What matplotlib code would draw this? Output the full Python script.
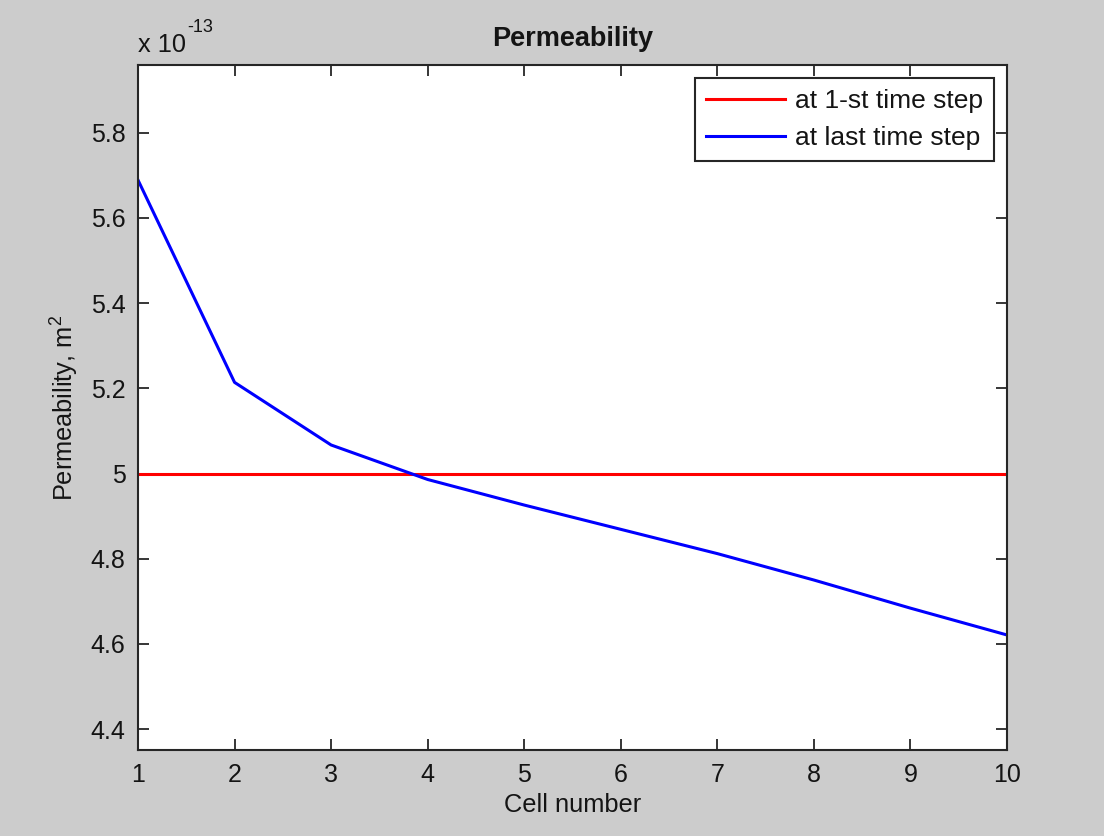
import matplotlib

matplotlib.use("Agg")
import matplotlib.pyplot as plt

# permeability values in units of 1e-13 m^2
cells = [1, 2, 3, 4, 5, 6, 7, 8, 9, 10]
perm_first = [5.0, 5.0, 5.0, 5.0, 5.0, 5.0, 5.0, 5.0, 5.0, 5.0]
perm_last = [5.689, 5.214, 5.067, 4.986, 4.926, 4.869, 4.812, 4.750, 4.684, 4.621]
y_ticks = [4.4, 4.6, 4.8, 5.0, 5.2, 5.4, 5.6, 5.8]
y_tick_labels = ["4.4", "4.6", "4.8", "5", "5.2", "5.4", "5.6", "5.8"]

plt.rcParams["font.family"] = ["Liberation Sans", "DejaVu Sans"]
plt.rcParams["mathtext.fontset"] = "custom"
plt.rcParams["mathtext.rm"] = "Liberation Sans"
plt.rcParams["mathtext.it"] = "Liberation Sans:italic"

grey = "#cccccc"
ink = "#141414"
fig = plt.figure(figsize=(11.04, 8.36), dpi=100, facecolor=grey)
ax = fig.add_axes([138 / 1104, 1 - 750 / 836, (1007 - 138) / 1104, (750 - 65) / 836])
ax.set_facecolor("white")

ax.plot(cells, perm_first, color="#ff0000", lw=2.2, label="at 1-st time step")
ax.plot(cells, perm_last, color="#0000ff", lw=2.2, label="at last time step")

ax.set_xlim(1, 10)
ax.set_ylim(4.351, 5.959)
ax.set_xticks(cells)
ax.set_yticks(y_ticks)
ax.set_yticklabels(y_tick_labels)
ax.tick_params(direction="in", length=8, width=1.2, top=True, right=True,
               labelsize=18, colors=ink, pad=9)
for s in ax.spines.values():
    s.set_linewidth(1.5)
    s.set_color("#262626")

ax.set_title("Permeability", fontsize=19.5, fontweight="bold", pad=14, color=ink)
ax.set_xlabel("Cell number", fontsize=18.3, labelpad=5, color=ink)
ax.set_ylabel("Permeability, m$^2$", fontsize=18.3, labelpad=7, color=ink)
ax.text(0.0, 1.012, "x 10", transform=ax.transAxes, fontsize=18.3,
        ha="left", va="bottom", color=ink)
ax.text(0.057, 1.043, "-13", transform=ax.transAxes, fontsize=13,
        ha="left", va="bottom", color=ink)

leg = ax.legend(loc="upper right", fontsize=19, handlelength=3.0,
                handletextpad=0.4, labelspacing=0.5, borderpad=0.4,
                borderaxespad=0.5, fancybox=False, framealpha=1)
leg.get_frame().set_edgecolor("#262626")
leg.get_frame().set_linewidth(1.5)
for t in leg.get_texts():
    t.set_color(ink)

fig.savefig("out.png", dpi=100, facecolor=grey)
